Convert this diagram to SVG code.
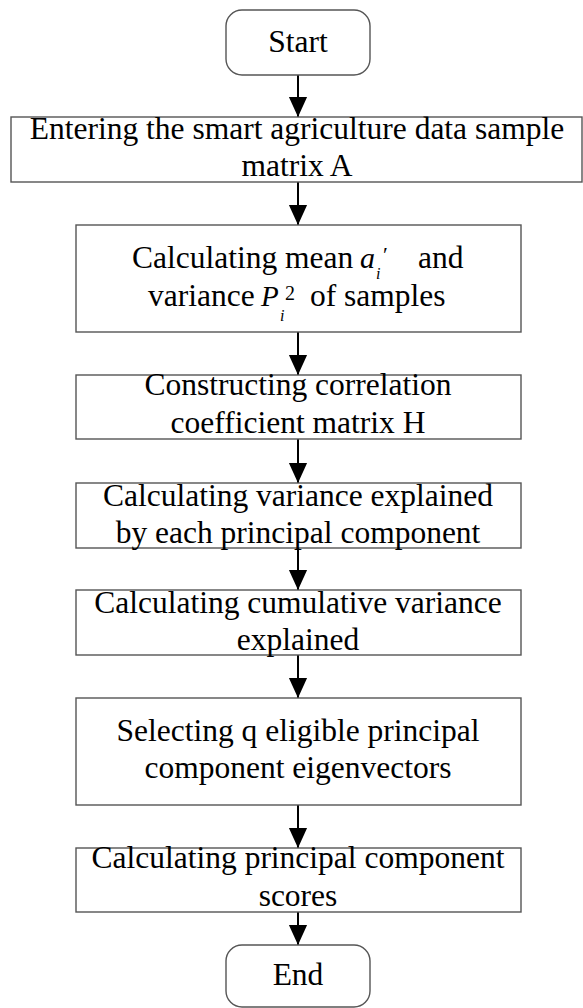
<svg xmlns="http://www.w3.org/2000/svg" width="583" height="1008" viewBox="0 0 583 1008">
<defs>
<style>
.box{fill:#fff;stroke:#555;stroke-width:1.4}
text{font-family:'Liberation Serif','Times New Roman',serif;font-weight:400;fill:#000}
.t{font-size:31.5px;text-anchor:middle}
.ts{font-size:31.5px}
.it{font-style:italic}
.ma{font-size:30px}
.mp{font-size:29px}
.sm{font-size:16px}
.pr{font-size:22px}
.sp{font-size:20px}
.conn line{stroke:#000;stroke-width:2}
</style>
<marker id="ah" markerWidth="20" markerHeight="22" refX="22" refY="10" orient="auto" markerUnits="userSpaceOnUse" viewBox="0 0 22 20">
<path d="M0,0 L22,10 L0,20 Z" fill="#000"/>
</marker>
</defs>
<rect width="583" height="1008" fill="#fff"/>
<g class="conn">
<line x1="298" y1="75" x2="298" y2="117" marker-end="url(#ah)"/>
<line x1="298" y1="182" x2="298" y2="225" marker-end="url(#ah)"/>
<line x1="298" y1="332" x2="298" y2="375" marker-end="url(#ah)"/>
<line x1="298" y1="439" x2="298" y2="483" marker-end="url(#ah)"/>
<line x1="298" y1="548" x2="298" y2="590" marker-end="url(#ah)"/>
<line x1="298" y1="655" x2="298" y2="698" marker-end="url(#ah)"/>
<line x1="298" y1="805" x2="298" y2="848" marker-end="url(#ah)"/>
<line x1="298" y1="912" x2="298" y2="945" marker-end="url(#ah)"/>
</g>
<g id="start">
<rect class="box" x="226" y="10" width="144" height="65" rx="16"/>
<text class="t" x="298" y="52">Start</text>
</g>
<g id="n1">
<rect class="box" x="11" y="117" width="571" height="65"/>
<text class="t" x="297" y="139">Entering the smart agriculture data sample</text>
<text class="t" x="297" y="176">matrix A</text>
</g>
<g id="n2">
<rect class="box" x="76" y="225" width="445" height="107"/>
<text class="ts" x="132" y="268">Calculating mean</text>
<text class="ma it" x="360" y="268">a</text>
<text class="pr" x="383" y="262">′</text>
<text class="sm it" x="376" y="279">i</text>
<text class="ts" x="418" y="268">and</text>
<text class="ts" x="148" y="306">variance</text>
<text class="mp it" x="261" y="306">P</text>
<text class="sp" x="285" y="300">2</text>
<text class="sm it" x="280" y="321">i</text>
<text class="ts" x="310" y="306">of samples</text>
</g>
<g id="n3">
<rect class="box" x="76" y="375" width="445" height="64"/>
<text class="t" x="298" y="395">Constructing correlation</text>
<text class="t" x="298" y="433">coefficient matrix H</text>
</g>
<g id="n4">
<rect class="box" x="76" y="483" width="445" height="65"/>
<text class="t" x="298" y="506">Calculating variance explained</text>
<text class="t" x="298" y="543">by each principal component</text>
</g>
<g id="n5">
<rect class="box" x="76" y="590" width="445" height="65"/>
<text class="t" x="298" y="613">Calculating cumulative variance</text>
<text class="t" x="298" y="650">explained</text>
</g>
<g id="n6">
<rect class="box" x="76" y="698" width="445" height="107"/>
<text class="t" x="298" y="741">Selecting q eligible principal</text>
<text class="t" x="298" y="778">component eigenvectors</text>
</g>
<g id="n7">
<rect class="box" x="76" y="848" width="445" height="64"/>
<text class="t" x="298" y="868">Calculating principal component</text>
<text class="t" x="298" y="906">scores</text>
</g>
<g id="end">
<rect class="box" x="226" y="945" width="144" height="62" rx="16"/>
<text class="t" x="298" y="985">End</text>
</g>
</svg>
